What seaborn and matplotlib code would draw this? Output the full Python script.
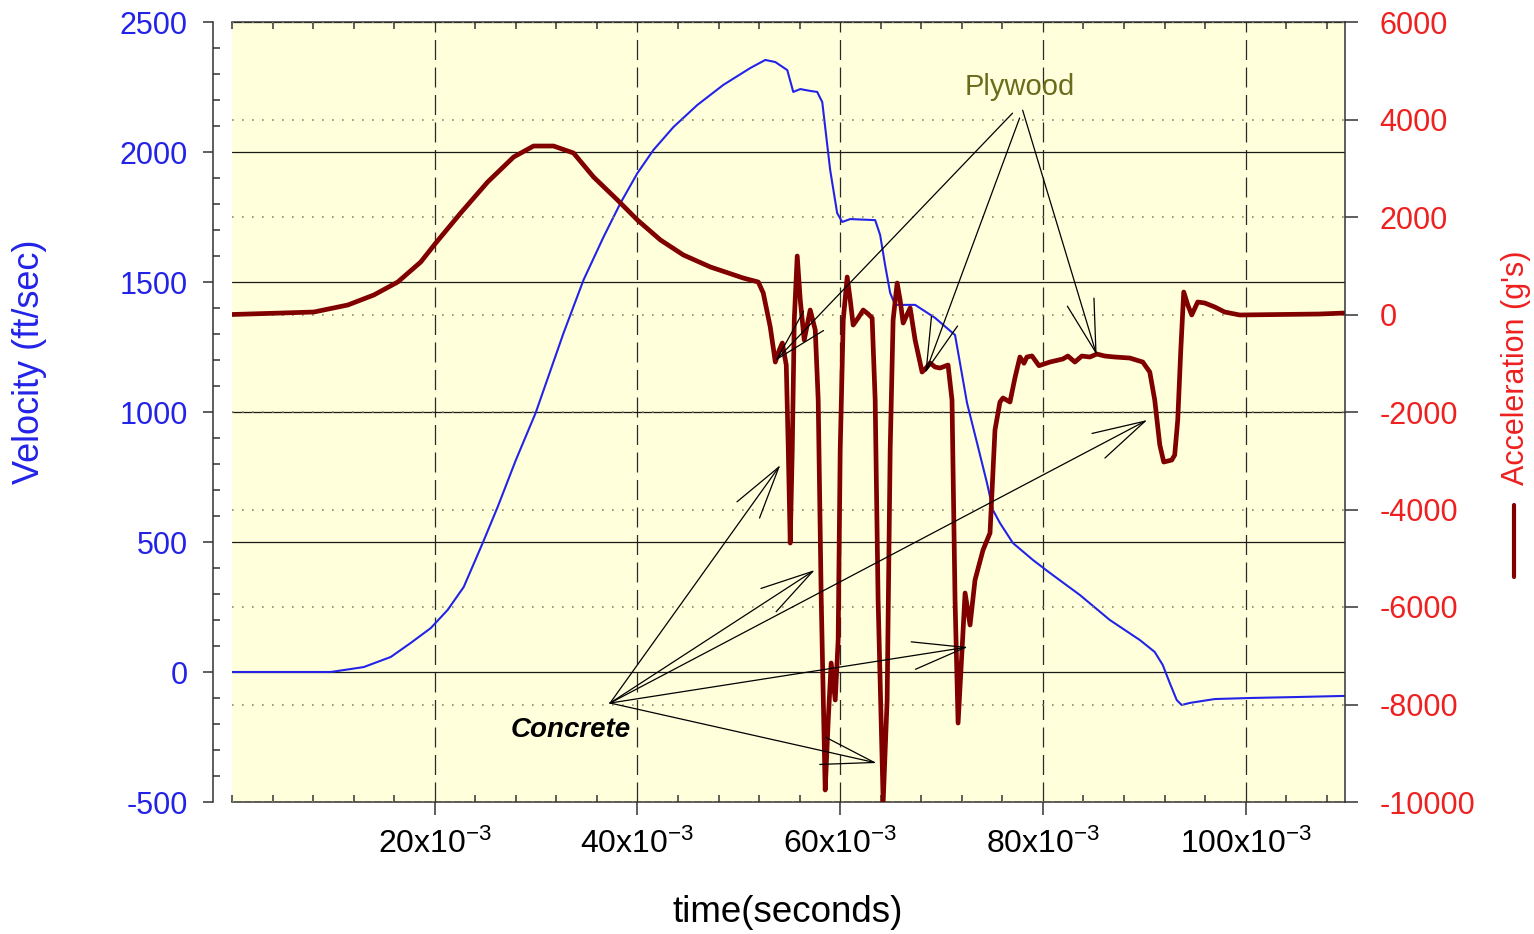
import matplotlib
matplotlib.use("Agg")
import matplotlib.pyplot as plt
from matplotlib.ticker import MultipleLocator, FixedLocator, NullLocator
from matplotlib.lines import Line2D
import seaborn as sns
import pandas as pd

# time in ms (axis labelled as x10^-3 s)
vel_t = [0, 6.7, 9.75, 13.0, 15.67, 17.64, 19.61, 21.28, 22.86, 24.73, 26.21,
         28.0, 29.95, 32.71, 34.68, 36.65, 38.33, 40.0, 41.58, 43.55, 45.91,
         48.47, 51.13, 52.61, 53.6, 54.78, 55.37, 56.06, 57.04, 57.73, 58.23, 59.01,
         59.7, 60.2, 60.99, 63.45, 63.94, 64.43, 64.93, 65.42, 67.39, 69.36, 71.33,
         71.82, 72.51, 73.5, 74.48, 75.07, 75.76, 77.04, 79.01, 80.69, 83.65, 86.6,
         89.56, 91.03, 91.82, 92.51, 93.2, 93.69, 94.48, 96.95, 100.39, 105.32, 109.75]
velocity = [0, 0, 0, 19, 58, 112, 169, 239, 327, 496, 635,
            815, 996, 1304, 1508, 1673, 1804, 1919, 2008, 2096, 2181,
            2258, 2323, 2354, 2346, 2315, 2231, 2242, 2235, 2231, 2192, 1931,
            1765, 1731, 1742, 1738, 1681, 1565, 1458, 1412, 1412, 1362, 1296,
            1188, 1035, 881, 727, 623, 573, 496, 431, 381, 296, 200,
            123, 77, 27, -42, -108, -127, -119, -104, -100, -96, -92]

acc_t = [0, 4.83, 8.08, 11.43, 13.99, 16.35, 18.62, 20.1, 22.56, 25.22, 27.78, 29.75,
         31.72, 33.69, 35.67, 38.03, 40.0, 42.27, 44.53, 47.19, 50.44, 51.92, 52.41,
         53.1, 53.6, 53.99, 54.29, 54.68, 54.88, 55.07, 55.27, 55.47, 55.76, 56.06,
         56.45, 57.04, 57.54, 57.83, 58.13, 58.52, 58.82, 59.11, 59.51, 59.8, 60.0,
         60.3, 60.69, 60.99, 61.28, 61.77, 62.27, 62.76, 63.15, 63.45, 63.74, 64.24,
         64.63, 64.93, 65.22, 65.62, 65.91, 66.21, 66.9, 67.39, 68.08, 68.47, 68.87,
         69.36, 69.85, 70.64, 71.03, 71.33, 71.63, 72.02, 72.32, 72.81, 73.3, 74.09,
         74.78, 75.27, 75.76, 76.06, 76.75, 77.24, 77.73, 78.13, 78.42, 78.92, 79.61,
         80.69, 81.97, 82.46, 83.15, 83.84, 84.63, 85.32, 86.11, 87.09, 88.57, 89.85,
         90.54, 91.03, 91.53, 91.92, 92.71, 93.0, 93.3, 93.6, 93.89, 94.29, 94.68,
         95.27, 95.96, 96.95, 97.93, 99.41, 103.35, 107.29, 109.75]
acceleration = [0, 30, 51, 195, 400, 666, 1077, 1466, 2082, 2718, 3230, 3456,
                3456, 3313, 2820, 2348, 1938, 1528, 1221, 975, 748, 666, 441,
                -257, -975, -729, -585, -1036, -2780, -4688, -2780, -113, 1200, 297,
                -524, 92, -318, -1754, -5857, -9754, -8318, -7149, -7908, -6677, -2780,
                -113, 769, 297, -216, -72, 92, 10, -72, -1754, -5857, -10000,
                -7908, -2780, -113, 646, 297, -175, 133, -523, -1180, -1098, -995,
                -1077, -1098, -1036, -1754, -5857, -8380, -6882, -5713, -6369, -5446, -4831,
                -4482, -2370, -1795, -1713, -1795, -1300, -872, -1000, -872, -850, -1050,
                -975, -912, -852, -975, -852, -872, -811, -852, -872, -893, -975,
                -1180, -1754, -2677, -3026, -2985, -2882, -2164, -729, 461, 195, -10,
                256, 236, 154, 51, -10, 0, 10, 30]

x_ticks = [20, 40, 60, 80, 100]
x_tick_labels = [r"20x10$^{-3}$", r"40x10$^{-3}$", r"60x10$^{-3}$",
                 r"80x10$^{-3}$", r"100x10$^{-3}$"]
vel_ticks = [-500, 0, 500, 1000, 1500, 2000, 2500]
acc_ticks = [-10000, -8000, -6000, -4000, -2000, 0, 2000, 4000, 6000]

concrete_xy = (33.4, -8520)
concrete_from = (37.3, -7970)
concrete_targets = [(54.1, -3087), (57.5, -5241), (90.3, -2164), (72.6, -6821), (63.6, -9200)]
plywood_xy = (77.7, 4666)
plywood_from = [(77.0, 4130), (77.7, 4030), (78.0, 4190)]
plywood_targets = [(53.6, -950), (68.4, -1200), (85.3, -831)]

VEL_BLUE = "#2323e8"
ACC_RED = "#800000"
LABEL_RED = "#ee2020"

sns.set_style("ticks")
plt.rcParams["font.family"] = ["Liberation Sans", "DejaVu Sans"]
plt.rcParams["mathtext.default"] = "regular"
plt.rcParams["axes.unicode_minus"] = False

W, H = 1534, 934
fig = plt.figure(figsize=(W / 100, H / 100), dpi=100)
ax = fig.add_axes([232 / W, 1 - 802 / H, (1345 - 232) / W, (802 - 22) / H])
ax.set_facecolor("#FFFFDC")
ax2 = ax.twinx()

vel_df = pd.DataFrame({"t": vel_t, "v": velocity})
acc_df = pd.DataFrame({"t": acc_t, "a": acceleration})
sns.lineplot(data=vel_df, x="t", y="v", ax=ax, color=VEL_BLUE, lw=1.5, sort=False,
             solid_joinstyle="round")
sns.lineplot(data=acc_df, x="t", y="a", ax=ax2, color=ACC_RED, lw=3.4, sort=False,
             solid_joinstyle="round")

ax.set_xlim(0, 109.8)
ax.set_ylim(-500, 2500)
ax2.set_ylim(-10000, 6000)

# grids
ax.xaxis.set_major_locator(FixedLocator(x_ticks))
ax.xaxis.set_minor_locator(MultipleLocator(4))
ax.set_xticklabels(x_tick_labels)
ax.yaxis.set_major_locator(FixedLocator(vel_ticks))
ax.yaxis.set_minor_locator(MultipleLocator(100))
ax2.yaxis.set_major_locator(FixedLocator(acc_ticks))
ax2.yaxis.set_minor_locator(NullLocator())
ax.xaxis.grid(True, color="#2a2a2a", lw=0.9, ls=(0, (16, 6)))
ax.yaxis.grid(True, color="#1a1a1a", lw=0.9, ls="-")
ax2.yaxis.grid(True, color="#8c8c6c", lw=1.2, ls=(0, (1, 5)))
ax.set_axisbelow(True)

# spines
for s in ["left", "right", "top", "bottom"]:
    ax.spines[s].set_color("#333333")
    ax.spines[s].set_linewidth(1.1)
    ax2.spines[s].set_color("#333333")
    ax2.spines[s].set_linewidth(1.1)
ax.spines["left"].set_position(("outward", 14))
ax.spines["right"].set_visible(False)
for s in ["left", "top", "bottom"]:
    ax2.spines[s].set_visible(False)

ax.tick_params(axis="x", which="major", direction="out", length=9, width=1.1,
               labelsize=23, pad=10, colors="#333333", labelcolor="black", top=False)
ax.tick_params(axis="x", which="minor", direction="in", length=5, width=1.1,
               top=True, bottom=True, colors="#333333")
ax.tick_params(axis="y", which="major", direction="out", length=7, width=1.1,
               labelsize=22, pad=11, colors="#333333", labelcolor=VEL_BLUE)
ax.tick_params(axis="y", which="minor", direction="in", length=5, width=1.1,
               colors="#333333")
ax2.tick_params(axis="y", which="major", direction="out", length=9, width=1.1,
                labelsize=22, pad=16, colors="#333333", labelcolor=LABEL_RED)
ax.set_xlabel("")
ax.set_ylabel("")
ax2.set_ylabel("")

# axis titles
fig.text(30 / W, 1 - 362 / H, "Velocity (ft/sec)", rotation=90, color=VEL_BLUE,
         fontsize=26, ha="center", va="center")
fig.text(788 / W, 1 - 912 / H, "time(seconds)", color="black",
         fontsize=26.5, ha="center", va="center")
fig.text(1516 / W, 1 - 368 / H, "Acceleration (g's)", rotation=90, color=LABEL_RED,
         fontsize=22, ha="center", va="center")
fig.add_artist(Line2D([1514 / W, 1514 / W], [1 - 505 / H, 1 - 577 / H],
                      transform=fig.transFigure, color=ACC_RED, lw=3))

# annotations
arrow = dict(arrowstyle="->,head_length=1.9,head_width=0.5", lw=0.9, color="black",
             shrinkA=0, shrinkB=0, mutation_scale=20)
ax2.text(*concrete_xy, "Concrete", fontsize=20, fontweight="bold", fontstyle="italic",
         ha="center", va="center", color="black", zorder=6)
for tgt in concrete_targets:
    ax2.annotate("", xy=tgt, xytext=concrete_from, arrowprops=arrow, zorder=5)
ax2.text(*plywood_xy, "Plywood", fontsize=21, color="#6b6b1e",
         ha="center", va="center", zorder=6)
for src, tgt in zip(plywood_from, plywood_targets):
    ax2.annotate("", xy=tgt, xytext=src, arrowprops=arrow, zorder=5)

fig.savefig("out.png", dpi=100)
